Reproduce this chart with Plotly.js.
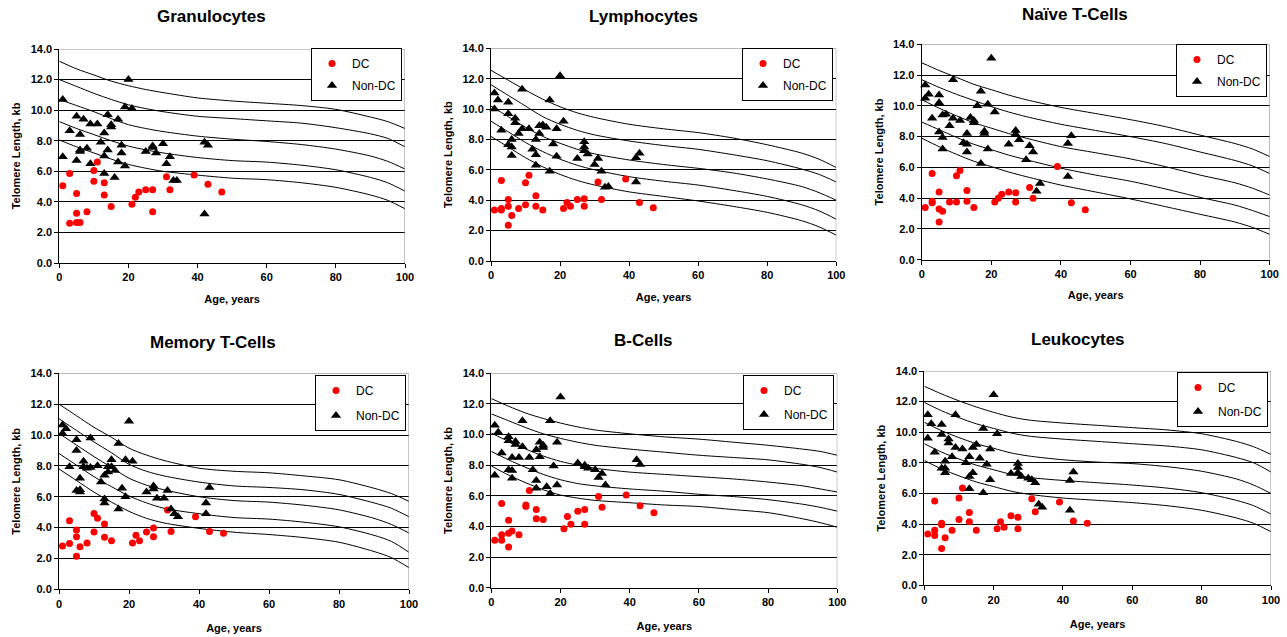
<!DOCTYPE html>
<html>
<head>
<meta charset="utf-8">
<script src="https://cdn.plot.ly/plotly-3.0.1.min.js"></script>
<style>html,body{margin:0;padding:0;background:#fff;}#chart{width:1287px;height:637px;}</style>
</head>
<body>
<div id="chart"></div>
<script>
// ---------- data ----------
const panelTitles = ["Granulocytes", "Lymphocytes", "Naïve T-Cells", "Memory T-Cells", "B-Cells", "Leukocytes"];
const xTickVals = [0, 20, 40, 60, 80, 100];
const yTickVals = [0, 2, 4, 6, 8, 10, 12, 14];
const curveAges = [0, 5, 10, 15, 20, 25, 30, 40, 50, 60, 70, 80, 90, 95, 100];

// Granulocytes
const granDcAge = [1,3,3,5,5,5,6,8,10,10,11,13,13,15,21,22,23,25,27,27,31,32,39,43,47];
const granDcTL  = [5.05,5.85,2.6,4.55,3.25,2.65,2.65,3.35,6.05,5.35,6.6,5.25,4.45,3.7,3.85,4.3,4.65,4.8,4.8,3.35,5.65,4.8,5.75,5.15,4.65];
const granNonAge = [1,1,3,5,5,6,6,6,7,8,9,9,11,12,13,13,13,14,14,15,15,16,17,17,18,18,19,19,20,21,25,27,27,28,30,31,32,33,34,42,43,42];
const granNonTL  = [10.7,6.95,8.65,9.6,6.7,8.4,7.4,7.3,9.4,7.5,9.1,6.5,9.1,7.9,8.5,7.0,5.85,9.7,7.4,9.05,8.9,5.6,9.4,6.6,7.7,7.2,10.2,6.35,12.0,10.1,7.3,7.65,7.55,7.2,7.8,6.5,6.95,5.4,5.4,7.9,7.7,3.2];
const granP99 = [13.2,12.7,12.3,11.9,11.6,11.35,11.15,10.8,10.6,10.45,10.3,10.05,9.55,9.25,8.8];
const granP90 = [12.0,11.55,11.1,10.7,10.35,10.1,9.9,9.6,9.45,9.3,9.15,8.85,8.45,8.15,7.6];
const granP50 = [10.7,10.3,9.9,9.45,9.05,8.8,8.6,8.3,8.1,7.95,7.75,7.45,7.0,6.65,6.15];
const granP10 = [9.25,8.8,8.4,8.0,7.65,7.4,7.2,6.9,6.7,6.6,6.4,6.1,5.6,5.25,4.7];
const granP1  = [8.05,7.6,7.2,6.8,6.45,6.2,6.0,5.75,5.55,5.45,5.25,4.95,4.45,4.1,3.55];

// Lymphocytes
const lymDcAge = [1,3,3,3,5,5,5,6,8,10,10,11,13,13,15,21,22,23,25,27,27,31,32,39,43,47];
const lymDcTL  = [3.35,5.3,3.45,3.35,4.05,3.6,2.35,3.0,3.45,5.15,3.7,5.65,4.3,3.6,3.35,3.45,3.85,3.6,4.05,4.1,3.6,5.2,4.05,5.4,3.85,3.5];
const lymNonAge = [1,2,1,3,5,5,5,6,6,6,7,7,8,9,9,11,12,13,13,13,14,14,15,16,17,17,18,19,19,20,21,25,27,27,27,28,30,31,32,33,34,42,43,42];
const lymNonTL  = [11.05,10.6,10.0,8.6,10.45,9.7,7.65,8.0,7.5,6.95,9.4,9.1,8.4,11.3,8.7,8.7,7.35,8.0,7.0,6.3,8.4,8.9,8.95,8.8,10.6,5.9,7.7,8.7,6.9,12.2,9.2,6.75,7.85,7.5,7.25,7.05,6.35,6.75,5.9,4.85,4.9,6.8,7.1,5.2];
const lymP99 = [12.55,11.9,11.25,10.65,10.15,9.75,9.45,9.0,8.7,8.45,8.1,7.65,7.1,6.7,6.15];
const lymP90 = [11.6,10.9,10.2,9.5,9.0,8.6,8.3,7.9,7.6,7.35,7.0,6.6,6.05,5.7,5.2];
const lymP50 = [10.2,9.5,8.8,8.2,7.75,7.35,7.05,6.65,6.35,6.1,5.8,5.4,4.9,4.5,4.0];
const lymP10 = [9.2,8.5,7.8,7.2,6.7,6.3,6.0,5.55,5.25,5.0,4.65,4.25,3.7,3.3,2.75];
const lymP1  = [8.2,7.5,6.8,6.2,5.7,5.3,5.0,4.55,4.25,3.95,3.6,3.2,2.65,2.25,1.7];

// Naive T-cells
const naiDcAge = [1,3,3,3,5,5,5,6,8,10,10,11,13,13,15,21,22,23,25,27,27,31,32,39,43,47];
const naiDcTL  = [3.4,5.6,3.8,3.7,4.4,3.3,2.45,3.15,3.75,5.45,3.75,5.8,4.5,3.8,3.4,3.75,4.0,4.25,4.4,4.35,3.75,4.7,4.0,6.05,3.7,3.25];
const naiNonAge = [1,2,1,3,5,5,5,6,6,6,7,8,9,9,11,12,13,13,13,14,15,15,16,17,17,18,18,19,19,20,21,25,27,27,28,30,31,32,33,34,42,43,42];
const naiNonTL  = [11.35,10.75,10.5,9.2,10.7,10.2,8.3,7.95,7.2,9.4,9.45,8.7,11.7,9.2,9.05,7.6,8.2,7.5,7.0,9.25,9.05,8.9,10.0,10.95,6.25,8.35,8.2,10.1,7.2,13.1,9.6,7.5,8.4,8.15,7.8,6.5,7.4,7.0,4.45,4.95,7.55,8.05,5.4];
const naiP99 = [12.8,12.3,11.85,11.4,11.05,10.7,10.4,9.9,9.5,9.1,8.65,8.1,7.55,7.2,6.7];
const naiP90 = [11.7,11.2,10.75,10.35,9.95,9.6,9.3,8.8,8.4,8.0,7.55,7.0,6.45,6.1,5.6];
const naiP50 = [10.4,9.85,9.35,8.9,8.55,8.2,7.9,7.35,6.95,6.55,6.05,5.5,5.0,4.65,4.2];
const naiP10 = [8.95,8.45,7.95,7.5,7.15,6.8,6.5,5.95,5.5,5.1,4.6,4.05,3.55,3.2,2.8];
const naiP1  = [7.9,7.35,6.85,6.4,6.05,5.7,5.4,4.85,4.4,3.95,3.45,2.95,2.45,2.1,1.65];

// Memory T-cells
const memDcAge = [1,3,3,5,5,5,6,8,10,10,11,13,13,15,21,22,23,25,27,27,31,32,39,43,47];
const memDcTL  = [2.8,2.97,4.45,3.85,3.4,2.15,2.75,3.0,3.72,4.92,4.6,4.23,3.37,3.15,3.0,3.5,3.15,3.72,3.97,3.4,5.14,3.74,4.71,3.74,3.63];
const memNonAge = [1,2,1,3,5,5,5,6,6,6,7,7,8,9,9,11,12,13,13,13,14,14,15,15,16,17,17,18,19,19,20,21,25,27,27,28,30,31,32,33,34,42,42,43];
const memNonTL  = [10.65,10.4,10.1,7.95,9.7,9.0,6.4,7.2,6.45,6.3,8.3,7.95,7.85,9.8,7.9,8.0,6.95,7.4,5.85,5.6,7.6,7.95,8.4,7.95,7.7,9.45,5.2,6.55,8.4,6.0,10.9,8.3,6.3,6.7,6.5,5.9,5.9,6.4,5.2,4.9,4.7,5.6,4.9,6.6];
const memP99 = [12.0,11.25,10.5,9.85,9.15,8.7,8.35,7.85,7.65,7.55,7.35,7.1,6.55,6.2,5.7];
const memP90 = [11.05,10.3,9.55,8.85,8.1,7.65,7.35,6.95,6.7,6.6,6.45,6.15,5.6,5.25,4.7];
const memP50 = [10.1,9.35,8.6,7.9,7.2,6.75,6.45,6.0,5.75,5.65,5.45,5.15,4.6,4.2,3.65];
const memP10 = [8.8,8.05,7.3,6.65,6.05,5.6,5.25,4.9,4.65,4.55,4.35,4.05,3.5,3.1,2.4];
const memP1  = [7.8,7.05,6.3,5.65,5.05,4.6,4.3,3.95,3.7,3.55,3.35,3.05,2.45,2.05,1.4];

// B-cells
const bcDcAge = [1,3,3,3,5,5,5,6,8,10,10,11,13,13,15,21,22,23,25,27,27,31,32,39,43,47];
const bcDcTL  = [3.1,3.45,3.1,5.5,4.4,3.55,2.65,3.7,3.45,5.4,5.3,6.35,5.1,4.5,4.45,3.85,4.65,4.15,5.0,5.1,4.15,5.95,5.25,6.05,5.35,4.9];
const bcNonAge = [1,2,1,3,5,5,5,6,6,6,7,7,8,9,9,11,12,13,13,13,14,14,15,15,16,17,17,18,19,19,20,25,27,27,28,30,31,32,33,42,43];
const bcNonTL  = [10.6,10.15,7.35,8.8,9.85,9.6,7.7,8.5,7.65,7.15,9.55,9.35,8.5,10.9,9.2,8.5,7.7,9.0,7.0,6.5,9.5,8.55,9.15,9.3,6.6,10.9,6.15,7.95,9.5,6.7,12.45,8.15,8.0,7.9,7.8,7.7,7.2,7.45,6.7,8.35,8.05];
const bcP99 = [12.35,11.85,11.4,11.05,10.75,10.5,10.3,10.05,9.85,9.7,9.5,9.3,9.05,8.9,8.65];
const bcP90 = [11.35,10.9,10.45,10.05,9.75,9.5,9.3,9.05,8.85,8.65,8.5,8.35,8.05,7.85,7.55];
const bcP50 = [10.1,9.55,9.05,8.6,8.25,8.0,7.8,7.55,7.4,7.25,7.1,6.9,6.65,6.45,6.25];
const bcP10 = [8.9,8.35,7.85,7.4,7.05,6.8,6.65,6.45,6.3,6.1,5.95,5.75,5.45,5.25,5.0];
const bcP1  = [7.95,7.35,6.85,6.4,6.05,5.85,5.7,5.55,5.4,5.3,5.1,4.9,4.5,4.25,3.95];

// Leukocytes
const leuDcAge = [1,3,3,3,5,5,5,6,8,10,10,11,13,13,15,21,22,23,25,27,27,31,32,39,43,47];
const leuDcTL  = [3.35,5.5,3.6,3.25,4.05,3.95,2.4,3.1,3.6,5.7,4.3,6.35,4.75,4.15,3.6,3.7,4.15,3.8,4.55,4.45,3.7,5.65,4.8,5.45,4.2,4.05];
const leuNonAge = [1,2,1,3,5,5,5,6,6,6,7,7,8,9,9,11,12,13,13,13,14,14,15,16,17,17,18,19,19,20,21,25,27,27,27,28,30,31,32,33,34,42,42,43];
const leuNonTL  = [11.15,10.55,9.6,8.7,10.5,9.85,7.65,8.1,7.65,7.35,9.55,9.3,8.4,11.15,9.0,8.9,8.0,8.4,7.1,6.3,7.35,9.0,9.2,8.3,10.25,6.05,7.9,8.9,6.9,12.45,9.9,7.3,7.95,7.7,7.35,7.1,7.0,6.9,6.7,5.3,5.1,4.9,6.85,7.4];
const leuP99 = [13.0,12.5,12.05,11.65,11.3,11.0,10.8,10.6,10.45,10.3,10.15,9.9,9.4,9.05,8.55];
const leuP90 = [11.95,11.4,10.95,10.55,10.25,9.95,9.75,9.55,9.4,9.25,9.1,8.85,8.35,8.0,7.4];
const leuP50 = [10.65,10.1,9.65,9.25,8.95,8.65,8.45,8.2,8.05,7.95,7.75,7.45,6.95,6.55,6.0];
const leuP10 = [9.25,8.7,8.25,7.85,7.55,7.25,7.05,6.85,6.7,6.55,6.35,6.05,5.55,5.2,4.65];
const leuP1  = [8.15,7.6,7.15,6.75,6.45,6.15,5.95,5.7,5.55,5.4,5.2,4.9,4.4,4.05,3.5];

// ---------- assembly ----------
const panels = [
  {dcA: granDcAge, dcT: granDcTL, nA: granNonAge, nT: granNonTL, curves: [granP99, granP90, granP50, granP10, granP1]},
  {dcA: lymDcAge, dcT: lymDcTL, nA: lymNonAge, nT: lymNonTL, curves: [lymP99, lymP90, lymP50, lymP10, lymP1]},
  {dcA: naiDcAge, dcT: naiDcTL, nA: naiNonAge, nT: naiNonTL, curves: [naiP99, naiP90, naiP50, naiP10, naiP1]},
  {dcA: memDcAge, dcT: memDcTL, nA: memNonAge, nT: memNonTL, curves: [memP99, memP90, memP50, memP10, memP1]},
  {dcA: bcDcAge, dcT: bcDcTL, nA: bcNonAge, nT: bcNonTL, curves: [bcP99, bcP90, bcP50, bcP10, bcP1]},
  {dcA: leuDcAge, dcT: leuDcTL, nA: leuNonAge, nT: leuNonTL, curves: [leuP99, leuP90, leuP50, leuP10, leuP1]}
];

// layout geometry (pixels in the 1287x637 page)
const W = 1287, H = 637;
const boxes = [ // [left, right, top, bottom] of plot areas
  [59.3, 405, 49, 263],
  [491, 836.3, 48.3, 261],
  [921.7, 1269.7, 44.3, 259.7],
  [59, 409, 373.3, 589.3],
  [491.3, 837.3, 373.3, 587.7],
  [924.3, 1271, 371, 585.3]
];
const titlePos = [[211, 17], [643, 17], [1075, 14], [213, 342], [643, 340], [1078, 339]];
const legendPos = [[402, 48], [833, 48], [1267, 44], [406, 375], [834, 375], [1268, 372]];
const legendGap = [3, 3, 3, 6, 5, 5];
const xTitleGap = [13, 13, 12, 15, 15, 15];

const FONT = "Liberation Sans, Arial, Helvetica, sans-serif";
const traces = [];
const layout = {
  width: W, height: H,
  margin: {l: 0, r: 0, t: 0, b: 0},
  paper_bgcolor: "#ffffff", plot_bgcolor: "#ffffff",
  font: {family: FONT, color: "#000000", size: 11},
  annotations: [], shapes: [],
  hovermode: false
};

panels.forEach((p, i) => {
  const n = i + 1;
  const xa = n === 1 ? "x" : "x" + n;
  const ya = n === 1 ? "y" : "y" + n;
  const lg = n === 1 ? "legend" : "legend" + n;
  const b = boxes[i];

  p.curves.forEach((c) => {
    traces.push({
      type: "scatter", mode: "lines", x: curveAges, y: c,
      xaxis: xa, yaxis: ya, showlegend: false,
      line: {color: "#000000", width: 1, shape: "spline", smoothing: 0.8},
      hoverinfo: "skip"
    });
  });
  traces.push({
    type: "scatter", mode: "markers", name: "DC", x: p.dcA, y: p.dcT,
    xaxis: xa, yaxis: ya, legend: lg, legendgroup: "dc" + n, cliponaxis: false,
    marker: {symbol: "circle", size: 7, color: "#ff0000", line: {width: 0}}
  });
  traces.push({
    type: "scatter", mode: "markers", name: "Non-DC", x: p.nA, y: p.nT,
    xaxis: xa, yaxis: ya, legend: lg, legendgroup: "non" + n, cliponaxis: false,
    marker: {symbol: "triangle-up", size: 9, color: "#000000", line: {width: 0}}
  });

  layout["xaxis" + (n === 1 ? "" : n)] = {
    domain: [b[0] / W, b[1] / W], anchor: ya,
    range: [0, 100], tickvals: xTickVals, ticktext: xTickVals.map(String),
    ticks: "outside", ticklen: 4, tickcolor: "#000", tickwidth: 1,
    showline: true, linecolor: "#000", linewidth: 1,
    showgrid: false, zeroline: false, fixedrange: true,
    tickfont: {family: FONT, size: 11, color: "#000", weight: "bold"},
    title: {text: "Age, years", font: {family: FONT, size: 11, color: "#000", weight: "bold"}, standoff: xTitleGap[i]}
  };
  layout["yaxis" + (n === 1 ? "" : n)] = {
    domain: [1 - b[3] / H, 1 - b[2] / H], anchor: xa,
    range: [0, 14], tickvals: yTickVals, tickformat: ".1f",
    ticks: "outside", ticklen: 4, tickcolor: "#000", tickwidth: 1,
    showline: true, linecolor: "#000", linewidth: 1,
    showgrid: true, gridcolor: "#000", gridwidth: 1, zeroline: false, fixedrange: true,
    tickfont: {family: FONT, size: 11, color: "#000", weight: "bold"},
    title: {text: "Telomere Length, kb", font: {family: FONT, size: 11, color: "#000", weight: "bold"}, standoff: 7}
  };
  // gray top/right border of the plot area
  layout.shapes.push({type: "line", xref: xa, yref: ya, x0: 0, x1: 100, y0: 14, y1: 14, line: {color: "#8c8c8c", width: 1}, layer: "above"});
  layout.shapes.push({type: "line", xref: xa, yref: ya, x0: 100, x1: 100, y0: 0, y1: 14, line: {color: "#8c8c8c", width: 1}, layer: "above"});

  layout[lg] = {
    x: legendPos[i][0] / W, y: 1 - legendPos[i][1] / H, xanchor: "right", yanchor: "top",
    bgcolor: "#ffffff", bordercolor: "#000000", borderwidth: 1,
    font: {family: FONT, size: 12, color: "#000"},
    tracegroupgap: legendGap[i], itemclick: false, itemdoubleclick: false
  };

  layout.annotations.push({
    xref: "paper", yref: "paper", x: titlePos[i][0] / W, y: 1 - titlePos[i][1] / H,
    xanchor: "center", yanchor: "middle", showarrow: false,
    text: panelTitles[i], font: {family: FONT, size: 17, color: "#000", weight: "bold"}
  });
});

Plotly.newPlot("chart", traces, layout, {displayModeBar: false, staticPlot: true});
</script>
</body>
</html>
